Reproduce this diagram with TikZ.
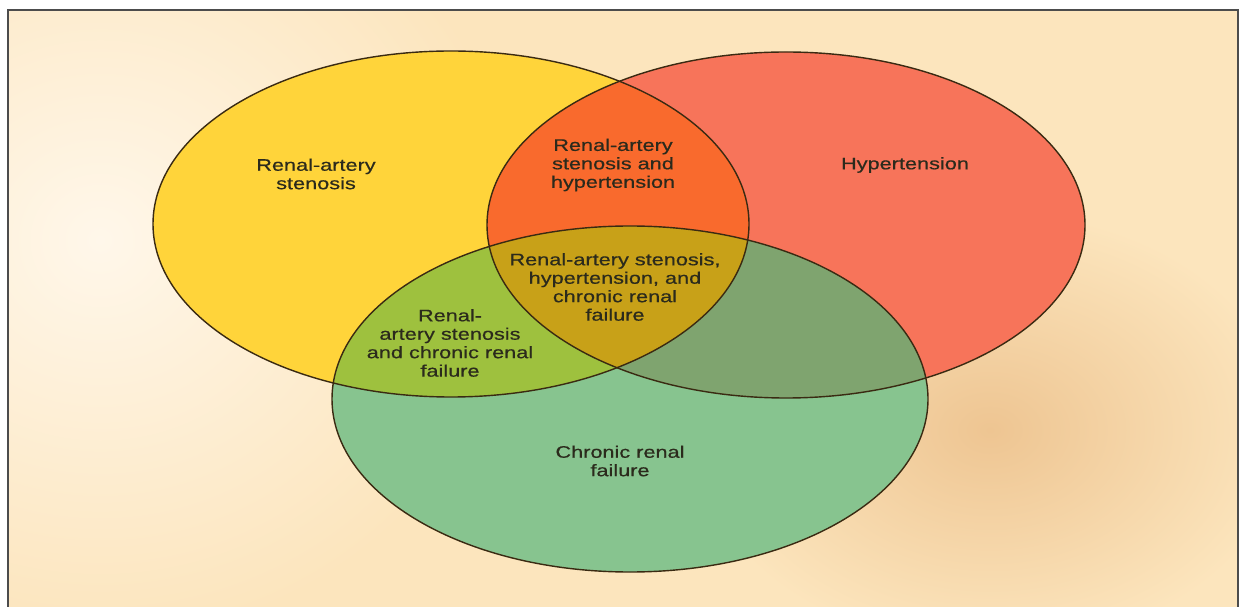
\documentclass[tikz,border=0pt]{standalone}
\usepackage{fontspec}
\setmainfont[FakeStretch=1.3,FakeBold=0.5]{Liberation Sans}
\usetikzlibrary{positioning}

\definecolor{bg}{HTML}{FCE5BD}
\definecolor{glow}{HTML}{FFF7EA}
\definecolor{shadow}{HTML}{EEC592}
\definecolor{yel}{HTML}{FFD43A}
\definecolor{rd}{HTML}{F7745A}
\definecolor{grn}{HTML}{87C48F}
\definecolor{orng}{HTML}{F96A2D}
\definecolor{ygrn}{HTML}{9EC13E}
\definecolor{rgrn}{HTML}{7FA46F}
\definecolor{mid}{HTML}{C8A118}
\definecolor{txt}{HTML}{2B2A1C}
\definecolor{edge}{HTML}{3A2A12}

\def\ellY{(yc) ellipse [x radius=298, y radius=173]}
\def\ellR{(rc) ellipse [x radius=299, y radius=173]}
\def\ellG{(gc) ellipse [x radius=298, y radius=173]}

\begin{document}
\begin{tikzpicture}[x=0.02cm,y=-0.02cm,
  lbl/.style={align=center,text=txt,inner sep=0pt,
    font=\fontsize{9.5}{10.5}\selectfont},
  rim/.style={draw=edge,line width=0.8pt}]
\useasboundingbox (0,0) rectangle (1243,607);
\fill[white] (0,0) rectangle (1243,607);
\begin{scope}
  \clip (8,10) rectangle (1238,620);
  \fill[bg] (8,10) rectangle (1238,620);
  \shade[inner color=glow,outer color=bg] (100,240) ellipse [x radius=420, y radius=400];
  \shade[inner color=shadow,outer color=bg] (990,430) ellipse [x radius=300, y radius=220];
\end{scope}
\draw[line width=1.1pt,draw=black!70] (8,620) -- (8,10) -- (1238,10) -- (1238,620);

\coordinate (yc) at (451,224);
\coordinate (rc) at (786,225);
\coordinate (gc) at (630,399);

\fill[yel] \ellY;
\fill[rd] \ellR;
\fill[grn] \ellG;
\begin{scope}
  \clip \ellY;
  \fill[orng] \ellR;
  \fill[ygrn] \ellG;
\end{scope}
\begin{scope}
  \clip \ellR;
  \fill[rgrn] \ellG;
\end{scope}
\begin{scope}
  \clip \ellY;
  \clip \ellR;
  \fill[mid] \ellG;
\end{scope}
\draw[rim] \ellY;
\draw[rim] \ellR;
\draw[rim] \ellG;

\node[lbl] (ras) at (316,174) {Renal-artery\\stenosis};
\node[lbl] (rash) at (613,165) {Renal-artery\\stenosis and\\hypertension};
\node[lbl] (hyp) at (905,165) {Hypertension};
\node[lbl] (all) at (615,287) {Renal-artery stenosis,\\hypertension, and\\chronic renal\\failure};
\node[lbl] (rasc) at (450,343) {Renal-\\artery stenosis\\and chronic renal\\failure};
\node[lbl] (crf) at (620,461) {Chronic renal\\failure};
\end{tikzpicture}
\end{document}
